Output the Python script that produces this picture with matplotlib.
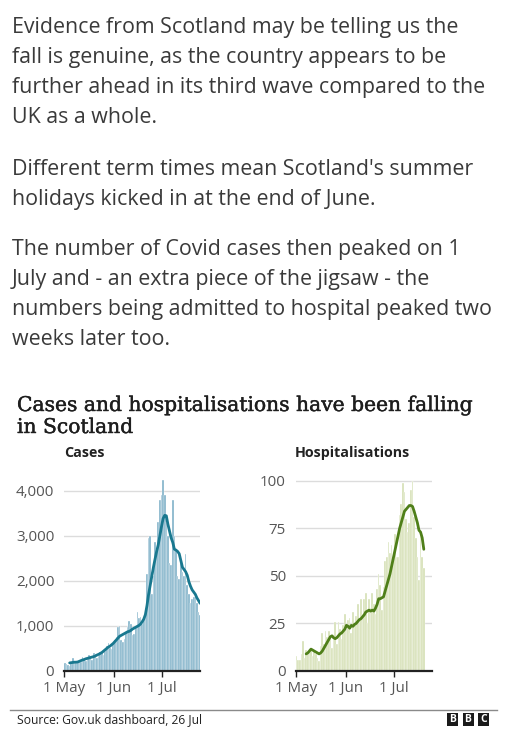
import datetime as dt
import numpy as np
import pandas as pd
import matplotlib
matplotlib.use("Agg")
import matplotlib.pyplot as plt
import matplotlib.patheffects as pe

# daily cases in Scotland, 1 May - 24 Jul
cases = [170, 150, 130, 100, 200, 280, 220,
         180, 230, 250, 200, 320, 260, 230,
         270, 350, 300, 250, 400, 380, 280,
         330, 420, 390, 350, 450, 560, 620,
         520, 480, 590,
         690, 760, 980, 1000, 680, 650, 720, 870, 980, 1100,
         1050, 800, 830, 1000, 1300, 1180, 1200, 1050, 1150, 1400,
         2150, 2950, 3000, 1700, 2100, 2850, 2700, 3300, 3800, 3900,
         4230, 3900, 3300, 3000, 2400, 2350, 3800, 3000, 2700, 2100,
         2050, 2400, 2200, 2100, 2600, 1900, 1700, 1500, 1600, 1650,
         1700, 1500, 1300, 1250]
# 7-day average, starting 4 May
cases_avg = [180, 185, 190, 195, 195, 200, 215, 230, 245, 255,
             270, 280, 290, 300, 310, 320, 335, 355, 370, 390,
             410, 440, 470, 500, 530, 550, 580, 610, 650, 690,
             730, 770, 790, 810, 830, 850, 870, 880, 900, 930,
             950, 970, 990, 1010, 1040, 1090, 1150, 1250, 1450, 1700,
             1900, 2100, 2300, 2480, 2650, 2800, 3000, 3200, 3380, 3450,
             3440, 3250, 3100, 2950, 2850, 2700, 2680, 2650, 2600, 2450,
             2300, 2250, 2200, 2120, 1980, 1880, 1800, 1750, 1700, 1620,
             1560, 1500]

# daily hospital admissions, 1 May - 19 Jul
hosp = [8, 6, 6, 9, 16, 7, 11, 9, 10, 12,
        8, 11, 9, 7, 5, 13, 20, 14, 21, 18,
        21, 17, 12, 19, 26, 14, 26, 22, 17, 24,
        30, 22, 27, 28, 20, 31, 24, 29, 35, 26,
        38, 30, 38, 41, 25, 38, 33, 41, 35, 30,
        43, 51, 45, 32, 44, 58, 60, 68, 62, 66,
        58, 72, 60, 60, 82, 88, 99, 94, 80, 73,
        78, 95, 100, 81, 70, 60, 48, 71, 60, 54]
# 7-day average, starting 7 May
hosp_avg = [9, 9.5, 10.5, 11.5, 11, 10.5, 10, 9.5, 9, 9.5,
            10.5, 12, 13.5, 15, 16.5, 18, 18.5, 17.5, 17, 17.5,
            18.5, 19.5, 20, 21, 22, 24, 23.5, 22.5, 24, 23.5,
            24.5, 25, 26, 27, 27.5, 28.5, 29.5, 31, 31.5, 32,
            31.5, 32, 31.5, 33, 35, 38, 38, 38.5, 39, 42,
            45, 48, 51, 55, 59, 63, 67, 71, 75, 78,
            81, 84, 85, 86, 87, 87, 86.5, 84, 81, 78,
            74, 73, 70, 64]

start = pd.Timestamp("2021-05-01")
xticks = [dt.datetime(2021, 5, 1), dt.datetime(2021, 6, 1), dt.datetime(2021, 7, 1)]
xticklabels = ["1 May", "1 Jun", "1 Jul"]

sans = ["Open Sans", "DejaVu Sans"]
plt.rcParams["font.family"] = sans

W, H = 507, 750
fig = plt.figure(figsize=(W / 100, H / 100), dpi=100)
fig.patch.set_facecolor("white")

def fx(px):
    return px / W

def fy(py):
    return 1 - py / H

text_col = "#3a3a3a"
paras = [
    (33, ["Evidence from Scotland may be telling us the",
          "fall is genuine, as the country appears to be",
          "further ahead in its third wave compared to the",
          "UK as a whole."]),
    (175, ["Different term times mean Scotland's summer",
           "holidays kicked in at the end of June."]),
    (255, ["The number of Covid cases then peaked on 1",
           "July and - an extra piece of the jigsaw - the",
           "numbers being admitted to hospital peaked two",
           "weeks later too."]),
]
for base, lines in paras:
    for i, line in enumerate(lines):
        fig.text(fx(12), fy(base + i * 30), line, fontsize=15.4, color=text_col,
                 va="baseline", ha="left")

# serif title, thickened slightly with a thin stroke
thick = [pe.withStroke(linewidth=0.3, foreground="#1e1e1e")]
fig.text(fx(17), fy(411), "Cases and hospitalisations have been falling",
         fontsize=14.6, family="DejaVu Serif", color="#1e1e1e", va="baseline",
         path_effects=thick)
fig.text(fx(17), fy(433), "in Scotland",
         fontsize=14.6, family="DejaVu Serif", color="#1e1e1e", va="baseline",
         path_effects=thick)


def panel(left_px, values, avg, avg_offset, ymax, yticks, ylabels, bar_col, line_col, title, title_x):
    ax = fig.add_axes([fx(left_px), fy(671), fx(136), (671 - 477) / H])
    dates = pd.date_range(start, periods=len(values), freq="D")
    ax.bar(dates, values, width=1.0, align="edge", color=bar_col,
           edgecolor="white", linewidth=0.25, zorder=2)
    avg_dates = pd.date_range(start + pd.Timedelta(days=avg_offset), periods=len(avg), freq="D") + pd.Timedelta(hours=12)
    ax.plot(avg_dates, avg, color=line_col, lw=2, zorder=3, solid_capstyle="round")
    ax.set_xlim(start, start + pd.Timedelta(days=84.4))
    ax.set_ylim(0, ymax)
    ax.set_yticks(yticks)
    ax.set_yticklabels(ylabels)
    ax.set_xticks(xticks)
    ax.set_xticklabels(xticklabels)
    ax.grid(axis="y", color="#dcdcdc", lw=1, zorder=0)
    ax.set_axisbelow(True)
    for s in ["left", "right", "top"]:
        ax.spines[s].set_visible(False)
    ax.spines["bottom"].set_color("#222222")
    ax.spines["bottom"].set_linewidth(1.6)
    ax.spines["bottom"].set_zorder(4)
    ax.tick_params(axis="y", length=0, pad=7, labelsize=10.9, labelcolor="#555555")
    ax.tick_params(axis="x", length=4, width=1, color="#222222", pad=3,
                   labelsize=10.9, labelcolor="#555555")
    fig.text(fx(title_x), fy(457), title, fontsize=10.3, weight="bold",
             color="#222222", va="baseline")
    return ax

panel(64, cases, cases_avg, 3, 4300, [0, 1000, 2000, 3000, 4000],
      ["0", "1,000", "2,000", "3,000", "4,000"], "#7fb1c8", "#19788f", "Cases", 64)
panel(295.7, hosp, hosp_avg, 6, 102, [0, 25, 50, 75, 100],
      ["0", "25", "50", "75", "100"], "#d4dfb4", "#4f7f19", "Hospitalisations", 295)

# footer
fig.add_artist(plt.Line2D([fx(10), fx(496.5)], [fy(709.5), fy(709.5)], color="#8a8a8a", lw=1))
fig.text(fx(17), fy(723), "Source: Gov.uk dashboard, 26 Jul", fontsize=8.7,
         color="#222222", va="baseline")
for i, letter in enumerate("BBC"):
    x0 = 446.7 + i * 15.8
    fig.add_artist(plt.Rectangle((fx(x0), fy(726)), fx(11), 12.7 / H, color="#1a1a1a", lw=0))
    fig.text(fx(x0 + 5.5), fy(719.6), letter, fontsize=7.5, weight="bold", color="white",
             ha="center", va="center")

fig.savefig("out.png", dpi=100)
